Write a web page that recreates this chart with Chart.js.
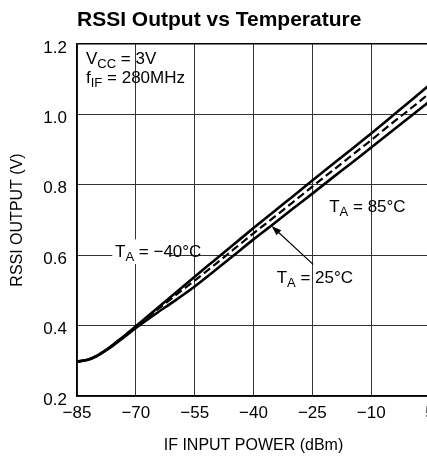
<!DOCTYPE html>
<html lang="en">
<head>
  <meta charset="UTF-8">
  <title>RSSI Output vs Temperature</title>
  <script src="https://cdn.jsdelivr.net/npm/chart.js"></script>
  <style>
    html, body {
      margin: 0;
      padding: 0;
      background: #fff;
      overflow: hidden;
      width: 427px;
      height: 460px;
    }
    #chart {
      display: block;
    }
  </style>
</head>
<body>
  <canvas id="chart" width="445" height="460" style="width:445px;height:460px"></canvas>

  <script>
    // IF input power (dBm) and RSSI output (V) per temperature
    const powerDbm = [-85, -82.5, -80, -77.5, -75, -72.5, -70, -65, -60, -55, -50, -45, -40, -35, -30, -25, -20, -15, -10, -5, 0, 5];
    const rssiMinus40C = [0.298, 0.302, 0.314, 0.332, 0.353, 0.375, 0.398, 0.445, 0.492, 0.539, 0.585, 0.631, 0.677, 0.722, 0.767, 0.812, 0.857, 0.901, 0.946, 0.992, 1.038, 1.085];
    const rssi25C = [0.298, 0.302, 0.314, 0.331, 0.352, 0.374, 0.396, 0.441, 0.485, 0.528, 0.572, 0.617, 0.662, 0.706, 0.750, 0.795, 0.839, 0.883, 0.927, 0.972, 1.016, 1.061];
    const rssi85C = [0.298, 0.302, 0.313, 0.330, 0.350, 0.371, 0.393, 0.433, 0.471, 0.511, 0.555, 0.600, 0.645, 0.688, 0.732, 0.775, 0.819, 0.862, 0.906, 0.950, 0.994, 1.038];

    const xTicks = [-85, -70, -55, -40, -25, -10, 5];
    const yTicks = [0.2, 0.4, 0.6, 0.8, 1.0, 1.2];

    const FONT = "'Liberation Sans', Arial, sans-serif";

    const toPoints = ys => powerDbm.map((x, i) => ({ x: x, y: ys[i] }));
    const minusSign = v => (v < 0 ? '\u2212' + Math.abs(v) : String(v));

    // draws text where parts are [text, isSubscript]
    function drawParts(ctx, x, y, parts, size) {
      let cx = x;
      parts.forEach(p => {
        const sub = p[1];
        ctx.font = (sub ? Math.round(size * 0.75) : size) + 'px ' + FONT;
        ctx.fillText(p[0], cx, sub ? y + 4 : y);
        cx += ctx.measureText(p[0]).width;
      });
      return cx - x;
    }

    const annotations = {
      id: 'annotations',
      beforeDatasetsDraw(chart) {
        const ctx = chart.ctx;
        const xs = chart.scales.x, ys = chart.scales.y;
        // white box behind the -40C label, cuts the gridline
        const x0 = xs.getPixelForValue(-76);
        const x1 = xs.getPixelForValue(-61.5);
        const yTop = ys.getPixelForValue(0.645);
        const yBot = ys.getPixelForValue(0.575);
        ctx.save();
        ctx.fillStyle = '#fff';
        ctx.fillRect(x0, yTop, x1 - x0, yBot - yTop);
        ctx.restore();
      },
      afterDatasetsDraw(chart) {
        const ctx = chart.ctx;
        const xs = chart.scales.x, ys = chart.scales.y;
        const px = v => xs.getPixelForValue(v);
        const py = v => ys.getPixelForValue(v);
        ctx.save();
        ctx.fillStyle = '#000';
        ctx.textBaseline = 'alphabetic';
        ctx.textAlign = 'left';

        // title
        ctx.font = 'bold 21px ' + FONT;
        ctx.fillText('RSSI Output vs Temperature', chart.chartArea.left, 26);

        // conditions
        drawParts(ctx, px(-82.7), py(1.142), [['V', false], ['CC', true], [' = 3V', false]], 17);
        drawParts(ctx, px(-82.7), py(1.09), [['f', false], ['IF', true], [' = 280MHz', false]], 17);

        // curve labels
        drawParts(ctx, px(-75.3), py(0.595), [['T', false], ['A', true], [' = \u221240\u00B0C', false]], 17);
        drawParts(ctx, px(-34.1), py(0.52), [['T', false], ['A', true], [' = 25\u00B0C', false]], 17);
        drawParts(ctx, px(-20.7), py(0.722), [['T', false], ['A', true], [' = 85\u00B0C', false]], 17);

        // arrow to the 25C curve
        const tx = px(-35.4), ty = py(0.683);
        const sx = px(-24.8), sy = py(0.574);
        const ang = Math.atan2(ty - sy, tx - sx);
        ctx.strokeStyle = '#000';
        ctx.lineWidth = 1.2;
        ctx.beginPath();
        ctx.moveTo(sx, sy);
        ctx.lineTo(tx - 6 * Math.cos(ang), ty - 6 * Math.sin(ang));
        ctx.stroke();
        ctx.beginPath();
        ctx.moveTo(tx, ty);
        ctx.lineTo(tx - 10 * Math.cos(ang) + 3.5 * Math.sin(ang), ty - 10 * Math.sin(ang) - 3.5 * Math.cos(ang));
        ctx.lineTo(tx - 10 * Math.cos(ang) - 3.5 * Math.sin(ang), ty - 10 * Math.sin(ang) + 3.5 * Math.cos(ang));
        ctx.closePath();
        ctx.fill();

        // axis titles
        ctx.font = '16px ' + FONT;
        ctx.textAlign = 'center';
        ctx.textBaseline = 'middle';
        ctx.fillText('IF INPUT POWER (dBm)', (chart.chartArea.left + chart.chartArea.right) / 2, 446);
        ctx.translate(18, (chart.chartArea.top + chart.chartArea.bottom) / 2);
        ctx.rotate(-Math.PI / 2);
        ctx.fillText('RSSI OUTPUT (V)', 0, 0);
        ctx.restore();
      }
    };

    const isTop = c => c.tick && Math.abs(c.tick.value - 1.2) < 1e-6;

    new Chart(document.getElementById('chart'), {
      type: 'line',
      data: {
        datasets: [
          {
            label: 'TA = -40C',
            data: toPoints(rssiMinus40C),
            borderColor: '#000',
            borderWidth: 2.6,
            pointRadius: 0,
            cubicInterpolationMode: 'monotone',
            fill: false
          },
          {
            label: 'TA = 25C',
            data: toPoints(rssi25C),
            borderColor: '#000',
            borderWidth: 2.2,
            borderDash: [8, 4],
            pointRadius: 0,
            cubicInterpolationMode: 'monotone',
            fill: false
          },
          {
            label: 'TA = 85C',
            data: toPoints(rssi85C),
            borderColor: '#000',
            borderWidth: 2.6,
            pointRadius: 0,
            cubicInterpolationMode: 'monotone',
            fill: false
          }
        ]
      },
      options: {
        responsive: false,
        animation: false,
        layout: { padding: { top: 44, right: 15, left: 0, bottom: 0 } },
        plugins: {
          legend: { display: false },
          tooltip: { enabled: false },
          title: { display: false }
        },
        scales: {
          x: {
            type: 'linear',
            min: -85,
            max: 5,
            afterFit: s => { s.height = 64; },
            afterBuildTicks: s => { s.ticks = xTicks.map(v => ({ value: v })); },
            ticks: {
              color: '#000',
              font: { size: 17, family: FONT },
              padding: 7,
              maxRotation: 0,
              autoSkip: false,
              callback: v => minusSign(v)
            },
            grid: { color: '#333', lineWidth: 1, drawTicks: false },
            border: { color: '#000', width: 1.5 }
          },
          y: {
            type: 'linear',
            min: 0.2,
            max: 1.2,
            afterFit: s => { s.width = 77; },
            afterBuildTicks: s => { s.ticks = yTicks.map(v => ({ value: v })); },
            ticks: {
              color: '#000',
              font: { size: 17, family: FONT },
              padding: 10,
              labelOffset: 4,
              callback: v => v.toFixed(1)
            },
            grid: {
              color: c => (isTop(c) ? '#000' : '#333'),
              lineWidth: c => (isTop(c) ? 1.5 : 1),
              drawTicks: false
            },
            border: { color: '#000', width: 1.5 }
          }
        }
      },
      plugins: [annotations]
    });
  </script>
</body>
</html>
